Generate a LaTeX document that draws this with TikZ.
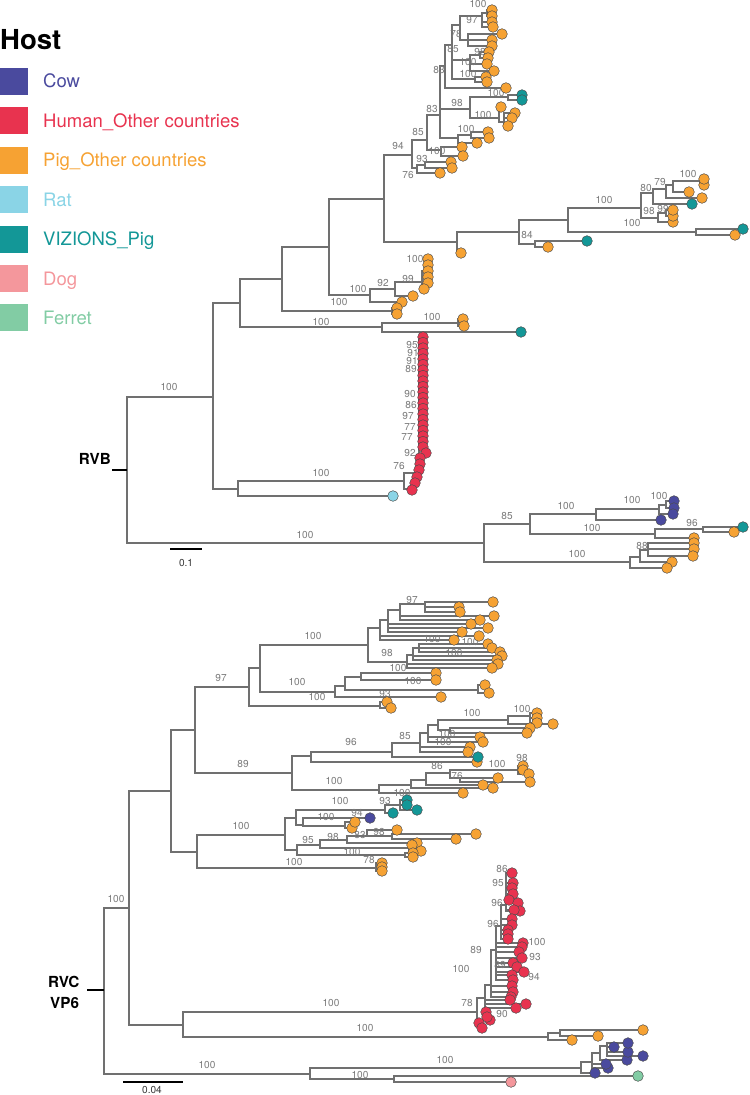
\documentclass[tikz,border=0pt]{standalone}
\usepackage{fontspec}
\setmainfont{TeX Gyre Heros}
\definecolor{cowC}{HTML}{4A4A9E}
\definecolor{humanC}{HTML}{E8334F}
\definecolor{pigC}{HTML}{F6A233}
\definecolor{ratC}{HTML}{8AD4E6}
\definecolor{vizC}{HTML}{139797}
\definecolor{dogC}{HTML}{F4979C}
\definecolor{ferretC}{HTML}{82CCA4}
\definecolor{branchC}{HTML}{707070}
\definecolor{bootC}{HTML}{7A7A7A}
\tikzset{
  treeline/.style={draw=branchC, line width=1.2pt},
  leafdot/.style={draw=black!70, line width=0.4pt},
  boot/.style={font=\fontsize{8.6}{9}\selectfont, text=bootC, inner sep=0pt},
  legtext/.style={font=\fontsize{15.8}{17}\selectfont, anchor=base west, inner sep=0pt},
  cladename/.style={font=\bfseries\fontsize{13}{14}\selectfont, inner sep=0pt},
}
\begin{document}
\begin{tikzpicture}[x=0.03cm, y=-0.03cm]
  \useasboundingbox (0,0) rectangle (749,1095);
  \node[font=\bfseries\fontsize{23.5}{26}\selectfont, anchor=west, inner sep=0pt] (hostTitle) at (0,40) {Host};
  \foreach \lab/\col [count=\i] in {Cow/cowC, Human\_Other countries/humanC, Pig\_Other countries/pigC, Rat/ratC, VIZIONS\_Pig/vizC, Dog/dogC, Ferret/ferretC} {
    \pgfmathsetmacro{\ly}{81.5+39.4*(\i-1)}
    \fill[\col] (0,\ly-13.5) rectangle (28,\ly+13.5);
    \node[legtext, text=\col] (leg\i) at (43,\ly+6.5) {\lab};
  }
  % RVB
  \foreach \n/\ya/\ea/\yb/\eb in {127/397/213/543/484, 213/303/240/489/238, 240/279/282/327/382,
      282/247/329/311/392, 329/199/384/295/370, 384/155/412/242/457, 457/232/519/253/461,
      519/220/568/244/535, 535/241/587/247/548, 568/208/641/232/696, 696/229/743/235/735,
      641/193/653/218/658, 653/189/666/204/692, 666/185/673/198/702, 673/181/700/192/689,
      700/179/704/185/704, 658/213/666/222/673, 666/210/673/216/673, 412/140/427/168/417,
      417/165/425/173/440, 425/162/451/168/452, 427/115/440/150/441, 441/147/462/156/463,
      440/66/445/138/458, 458/135/471/143/477, 471/132/488/138/489, 470/97/508/118/499,
      508/95/522/100/522, 499/107/501/122/504, 504/113/515/126/508, 445/45/452/88/506,
      452/25/460/79/475, 460/16/482/40/468, 482/13/487/27/493, 487/10/492/16/492,
      468/34/502/46/492, 470/55/480/71/494, 480/52/489/58/488, 475/77/486/82/487,
      370/289/395/302/402, 395/282/422/296/413, 422/271/425/289/424, 425/259/428/283/428,
      392/308/397/314/397, 382/323/458/332/521, 458/319/463/326/464, 238/481/404/496/393,
      404/473/417/489/412, 484/524/530/562/630, 530/514/596/534/655, 596/509/659/520/661,
      659/505/666/514/673, 666/501/674/508/674, 655/529/703/538/694, 703/527/743/532/734,
      630/557/640/568/667, 640/550/648/562/672, 648/543/694/556/693}
    \draw[treeline] (\ea,\ya) -- (\n,\ya) -- (\n,\yb) -- (\eb,\yb);
  \foreach \n/\y/\e in {440/109/470, 504/118/512, 452/60/470, 482/22/492, 468/40/492, 470/64/487,
      425/265/428, 425/271/428, 425/277/428, 648/549/694}
    \draw[treeline] (\n,\y) -- (\e,\y);
  \draw[treeline] (417,473) -- (419,473) -- (419,339);
  % RVC
  \foreach \n/\ya/\ea/\yb/\eb in {104/908/129/1074/310, 129/791/171/1025/183, 171/730/195/852/197,
      195/687/249/773/292, 249/668/260/706/380, 380/702/387/708/391, 260/645/368/692/335,
      335/686/345/697/441, 345/677/361/690/478, 361/673/436/680/436, 478/685/485/693/489,
      368/628/380/662/407, 407/655/413/668/492, 413/648/419/660/497, 419/644/488/652/500,
      380/620/388/640/454, 388/610/400/632/462, 400/604/425/620/480, 425/602/493/612/460,
      292/756/311/790/379, 311/752/392/762/477, 392/743/420/757/478, 420/733/428/752/468,
      428/725/438/742/483, 438/720/508/730/450, 450/728/530/733/527, 508/716/530/724/553,
      530/713/537/723/537, 379/785/411/793/463, 411/780/426/788/493, 426/773/450/785/483,
      450/770/518/778/460, 518/766/523/774/529, 460/778/498/782/530, 197/835/285/868/376,
      376/863/382/871/382, 285/818/296/850/297, 296/810/385/825/303, 385/805/400/813/393,
      400/800/407/810/417, 303/818/370/826/345, 345/822/355/828/352, 297/845/320/855/405,
      405/853/413/857/413, 320/840/347/848/409, 409/845/412/851/421, 347/836/367/843/417,
      367/830/397/836/392, 392/834/476/839/456, 183/1012/477/1037/548, 548/1033/560/1040/572,
      560/1030/642/1036/598, 477/998/485/1024/479, 485/985/491/1008/516, 491/950/496/997/511,
      496/926/501/980/513, 501/905/506/939/508, 506/873/512/911/520, 310/1068/581/1079/394,
      394/1076/635/1082/511, 581/1062/592/1073/595, 592/1053/600/1068/608, 600/1046/607/1060/627,
      607/1043/628/1056/643}
    \draw[treeline] (\ea,\ya) -- (\n,\ya) -- (\n,\yb) -- (\eb,\yb);
  \foreach \n/\y/\e in {407/664/498, 413/656/502, 419/648/492, 380/636/479, 388/624/471, 388/628/488,
      400/616/494, 425/607/459, 420/747/470, 428/737/480, 530/718/537, 518/770/523, 376/867/382,
      400/805/407, 485/1000/510, 485/1004/526, 491/992/513, 491/986/512, 496/975/512, 496/972/524,
      496/967/517, 496/963/513, 496/958/522, 496/952/519, 496/947/522, 496/943/523, 501/934/508,
      501/930/508, 501/925/512, 501/919/512, 506/883/513, 506/888/512, 506/894/513, 506/900/509,
      506/903/518, 506/910/514, 592/1064/606, 607/1047/614, 607/1052/628}
    \draw[treeline] (\n,\y) -- (\e,\y);
  % clade names and scale bars
  \draw[black, line width=1.2pt] (112,470) -- (127,470);
  \node[cladename, anchor=base east] (rvbName) at (111,464) {RVB};
  \draw[black, line width=1.2pt] (87,990) -- (104,990);
  \node[cladename, anchor=base west] (rvcName) at (48,987) {RVC};
  \node[cladename, anchor=base west] (vpName) at (50,1008) {VP6};
  \draw[black, line width=1pt] (170,549) -- (202,549);
  \node[boot, text=black!80] (barB) at (186,563) {0.1};
  \draw[black, line width=1pt] (123,1082) -- (183,1082);
  \node[boot, text=black!80] (barC) at (152,1090) {0.04};
  % bootstrap values
  \foreach \x/\y/\v [count=\i] in {169/387/100, 478/4/100, 472/20/97, 456/34/78, 453/49/85, 480/52/98,
      468/62/100, 439/70/83, 468/74/100, 496/93/100, 457/103/98, 432/109/83, 483/115/100, 466/129/100,
      418/132/85, 398/146/94, 437/151/100, 422/159/93, 408/175/76, 604/200/100, 646/188/80, 660/182/79,
      688/174/100, 649/211/98, 663/209/99, 632/223/100, 527/235/84, 415/259/100, 408/279/99, 383/283/92,
      358/289/100, 339/302/100, 321/322/100, 432/317/100, 321/473/100, 412/345/95, 413/353/91,
      412/361/91, 411/369/89, 410/394/90, 411/405/86, 408/416/97, 410/427/77, 407/437/77, 410/453/92,
      399/466/76, 305/535/100, 507/516/85, 566/506/100, 632/500/100, 659/496/100, 592/528/100,
      692/523/96, 577/554/100, 642/546/88}
    \node[boot] (bsB\i) at (\x,\y) {\v};
  \foreach \x/\y/\v [count=\i] in {116/899/100, 221/678/97, 243/764/89, 412/600/97, 313/636/100,
      432/639/100, 470/642/100, 387/653/98, 454/653/100, 398/668/100, 413/681/100, 297/682/100,
      317/697/100, 385/694/93, 522/709/100, 472/713/100, 447/734/100, 405/736/85, 351/742/96,
      443/742/100, 437/766/86, 497/764/100, 522/758/98, 457/776/76, 334/781/100, 402/793/100,
      340/801/100, 385/801/93, 357/813/94, 326/817/100, 241/826/100, 379/832/98, 333/837/98,
      360/835/83, 308/840/95, 352/852/100, 294/862/100, 369/860/78, 502/869/86, 498/883/95,
      497/903/96, 493/924/96, 537/942/100, 476/950/89, 535/957/93, 500/965/89, 461/969/100,
      534/977/94, 331/1003/100, 467/1003/78, 502/1014/90, 365/1028/100, 445/1060/100, 207/1065/100,
      360/1075/100}
    \node[boot] (bsC\i) at (\x,\y) {\v};
  % tips
  \foreach \x/\y in {492/10, 492/16, 492/22, 493/27, 502/34, 492/40, 492/46, 489/52, 488/58, 487/64,
      494/71, 486/77, 487/82, 506/88, 501/107, 515/113, 512/118, 508/126, 488/132, 489/138, 477/143,
      462/147, 463/156, 451/162, 452/168, 440/173, 428/259, 428/265, 428/271, 428/277, 428/283,
      424/289, 413/296, 402/302, 397/308, 397/314, 463/319, 464/326, 461/253, 548/247, 735/235,
      673/222, 673/216, 673/210, 702/198, 689/192, 704/185, 704/179, 734/532, 694/538, 694/543,
      694/549, 693/556, 672/562, 667/568,
      493/602, 459/607, 460/612, 494/616, 480/620, 471/624, 488/628, 462/632, 479/636, 454/640,
      488/644, 492/648, 500/652, 502/656, 497/660, 498/664, 492/668, 436/673, 436/680, 485/685,
      489/693, 441/697, 387/702, 391/708, 537/713, 537/718, 537/723, 553/724, 530/728, 527/733,
      480/737, 483/742, 470/747, 468/752, 477/762, 523/766, 523/770, 529/774, 498/778, 530/782,
      483/785, 493/788, 463/793, 397/830, 476/834, 456/839, 417/843, 412/845, 421/851, 413/853,
      413/857, 382/863, 382/867, 382/871, 352/828, 355/822, 643/1030, 598/1036, 572/1040}
    \draw[leafdot, fill=pigC] (\x,\y) circle[radius=0.16cm];
  \foreach \x/\y in {522/95, 522/100, 521/332, 587/241, 743/229, 692/204, 743/527,
      478/757, 393/813, 407/800, 407/805, 417/810}
    \draw[leafdot, fill=vizC] (\x,\y) circle[radius=0.16cm];
  \foreach \x/\y in {674/501, 674/508, 673/514, 661/520, 370/818, 595/1073, 608/1068, 606/1064,
      627/1060, 643/1056, 628/1052, 614/1047, 628/1043}
    \draw[leafdot, fill=cowC] (\x,\y) circle[radius=0.16cm];
  \foreach \k in {0,...,20}
    \draw[leafdot, fill=humanC] (423,337+5.5*\k) circle[radius=0.16cm];
  \foreach \x/\y in {426/453, 420/458, 420/464, 419/470, 417/477, 415/483, 412/490,
      512/873, 513/883, 512/888, 513/894, 509/900, 518/903, 520/911, 514/910, 512/919, 512/925,
      508/930, 508/934, 508/939, 523/943, 522/947, 519/952, 522/958, 513/963, 517/967, 524/972,
      512/975, 513/980, 512/986, 513/992, 511/997, 510/1000, 516/1008, 526/1004, 486/1012,
      490/1020, 487/1017, 479/1023, 482/1028}
    \draw[leafdot, fill=humanC] (\x,\y) circle[radius=0.16cm];
  \draw[leafdot, fill=ratC] (393,496) circle[radius=0.16cm];
  \draw[leafdot, fill=dogC] (511,1082) circle[radius=0.16cm];
  \draw[leafdot, fill=ferretC] (638,1076) circle[radius=0.16cm];
\end{tikzpicture}
\end{document}
